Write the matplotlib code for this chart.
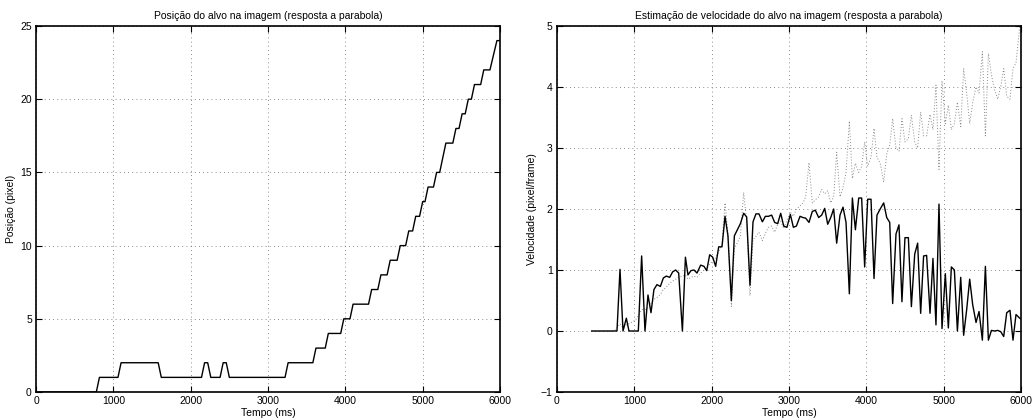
import matplotlib
matplotlib.use("Agg")
from matplotlib import pyplot as plt

plt.rcParams["font.family"] = ["Liberation Sans", "DejaVu Sans"]
plt.rcParams["font.size"] = 7.5

# target position in the image (pixel), vertices of the step curve
pos_t = [0, 780, 820, 1060, 1100, 1580, 1620, 2140, 2180, 2220, 2260,
         2380, 2420, 2460, 2500, 3220, 3260, 3580, 3620, 3740, 3780,
         3940, 3980, 4060, 4100, 4300, 4340, 4420, 4460, 4540, 4580,
         4670, 4710, 4780, 4820, 4870, 4910, 4960, 5000, 5030, 5070,
         5140, 5180, 5220, 5300, 5390, 5430, 5470, 5510, 5550, 5590,
         5630, 5670, 5750, 5790, 5870, 5960, 6000]
pos_px = [0, 0, 1, 1, 2, 2, 1, 1, 2, 2, 1,
          1, 2, 2, 1, 1, 2, 2, 3, 3, 4,
          4, 5, 5, 6, 6, 7, 7, 8, 8, 9,
          9, 10, 10, 11, 11, 12, 12, 13, 13, 14,
          14, 15, 15, 17, 17, 18, 18, 19, 19, 20,
          20, 21, 21, 22, 22, 24, 24]

# velocity estimates (pixel/frame), sampled at the frame times
vel_t = [450, 490, 530, 570, 610, 650, 700, 740, 776, 815,
         854, 897, 931, 975, 1015, 1052, 1095, 1138, 1177, 1216,
         1254, 1293, 1337, 1376, 1415, 1458, 1496, 1535, 1574, 1622,
         1661, 1694, 1733, 1772, 1811, 1858, 1901, 1936, 1975, 2014,
         2052, 2091, 2134, 2173, 2211, 2255, 2294, 2333, 2372, 2414,
         2453, 2496, 2535, 2573, 2612, 2656, 2695, 2734, 2776, 2815,
         2854, 2893, 2932, 2974, 3018, 3057, 3096, 3143, 3181, 3216,
         3259, 3302, 3341, 3384, 3423, 3462, 3501, 3540, 3578, 3617,
         3660, 3699, 3738, 3781, 3820, 3859, 3902, 3940, 3979, 4018,
         4061, 4100, 4138, 4180, 4225, 4264, 4303, 4341, 4384, 4423,
         4461, 4500, 4544, 4583, 4626, 4664, 4703, 4741, 4780, 4824,
         4862, 4901, 4940, 4979, 5022, 5061, 5100, 5139, 5178, 5221,
         5259, 5298, 5337, 5376, 5419, 5458, 5501, 5540, 5579, 5618,
         5660, 5699, 5738, 5777, 5816, 5858, 5897, 5936, 5984, 6000]
vel_est = [0, 0, 0, 0, 0, 0, 0, 0, 0, 1.01,
           0, 0.21, 0, 0, 0, 0, 1.23, 0, 0.59, 0.30,
           0.68, 0.76, 0.73, 0.87, 0.90, 0.88, 0.97, 1.00, 0.95, 0,
           1.21, 0.92, 0.99, 1.00, 0.95, 1.08, 1.06, 0.99, 1.25, 1.21,
           1.06, 1.38, 1.38, 1.88, 1.56, 0.50, 1.56, 1.66, 1.76, 1.93,
           1.87, 0.75, 1.79, 1.92, 1.92, 1.79, 1.88, 1.88, 1.90, 1.78,
           1.76, 1.93, 1.72, 1.70, 1.91, 1.70, 1.72, 1.88, 1.86, 1.85,
           1.78, 1.96, 1.98, 1.86, 1.90, 2.01, 1.75, 1.86, 2.00, 1.44,
           1.90, 2.03, 1.78, 0.61, 2.18, 1.66, 2.18, 2.18, 1.05, 2.16,
           2.16, 0.86, 1.90, 2.00, 2.10, 1.86, 1.78, 0.45, 1.59, 1.74,
           0.48, 1.53, 1.53, 0.40, 1.26, 1.44, 0.29, 1.23, 1.24, 0.29,
           1.19, 0.10, 2.08, 0.04, 0.94, 0.05, 1.05, 1.00, 0.00, 0.88,
           -0.07, 0.35, 0.85, 0.43, 0.14, 0.32, -0.15, 1.06, -0.15, 0.01,
           0.00, 0.01, -0.01, -0.09, 0.30, 0.34, -0.15, 0.27, 0.21, 0.20]
vel_ref = [0, 0, 0, 0, 0, 0, 0, 0, 0.05, 0.12,
           0.05, 0.10, 0.12, 0.15, 0.18, 0.25, 0.35, 0.35, 0.38, 0.45,
           0.52, 0.55, 0.60, 0.68, 0.72, 0.78, 0.82, 0.85, 0.88, 0.90,
           0.92, 0.85, 0.88, 0.90, 0.88, 0.95, 1.00, 1.02, 1.10, 1.15,
           1.20, 1.30, 1.42, 2.10, 1.60, 0.40, 1.35, 1.45, 1.55, 2.27,
           1.80, 0.58, 1.50, 1.55, 1.62, 1.48, 1.60, 1.70, 1.72, 1.62,
           1.75, 1.80, 1.68, 1.82, 1.95, 1.88, 2.00, 2.05, 2.10, 2.20,
           2.76, 2.10, 2.15, 2.20, 2.32, 2.25, 2.30, 2.10, 2.20, 2.93,
           2.20, 2.35, 2.60, 3.44, 2.50, 2.75, 2.60, 2.70, 3.10, 2.70,
           2.85, 3.32, 2.85, 2.75, 2.44, 2.90, 3.05, 3.48, 3.00, 2.95,
           3.48, 3.10, 3.15, 3.54, 3.10, 3.00, 3.59, 3.20, 3.20, 3.55,
           3.30, 4.03, 2.65, 4.10, 3.40, 3.70, 3.30, 3.40, 3.75, 3.35,
           4.30, 3.90, 3.40, 3.75, 4.00, 3.90, 4.58, 3.20, 4.55, 4.20,
           3.95, 3.80, 4.00, 4.30, 3.85, 3.80, 4.30, 4.40, 4.99, 5.00]


def matlab_axes(ax):
    # boxed axes, inward ticks on all sides, dotted grid
    for s in ax.spines.values():
        s.set_linewidth(1.2)
        s.set_color("black")
    ax.tick_params(direction="in", top=True, right=True, length=4,
                   width=0.8, labelsize=7.5, pad=3)
    ax.grid(True, color="#666666", linestyle=(0, (1, 4)), linewidth=0.6)
    ax.set_axisbelow(True)


fig = plt.figure(figsize=(10.32, 4.19), dpi=100)
ax1 = fig.add_axes([0.0349, 0.0644, 0.4496, 0.8736])
ax2 = fig.add_axes([0.5397, 0.0644, 0.4496, 0.8736])

ax1.plot(pos_t, pos_px, color="black", linewidth=1.0)
ax1.set_xlim(0, 6000)
ax1.set_ylim(0, 25)
ax1.set_xticks(range(0, 6001, 1000))
ax1.set_yticks(range(0, 26, 5))
ax1.set_title("Posição do alvo na imagem (resposta a parabola)", fontsize=7.5, pad=5)
ax1.set_xlabel("Tempo (ms)", fontsize=7.5, labelpad=1)
ax1.set_ylabel("Posição (pixel)", fontsize=7.5, labelpad=3)
matlab_axes(ax1)

ax2.plot(vel_t, vel_ref, color="#888888", linestyle=(0, (1, 2)), linewidth=0.7)
ax2.plot(vel_t, vel_est, color="black", linewidth=1.0)
ax2.set_xlim(0, 6000)
ax2.set_ylim(-1, 5)
ax2.set_xticks(range(0, 6001, 1000))
ax2.set_yticks(range(-1, 6))
ax2.set_yticklabels(["\u22121", "0", "1", "2", "3", "4", "5"])
ax2.set_title("Estimação de velocidade do alvo na imagem (resposta a parabola)", fontsize=7.5, pad=5)
ax2.set_xlabel("Tempo (ms)", fontsize=7.5, labelpad=1)
ax2.set_ylabel("Velocidade (pixel/frame)", fontsize=7.5, labelpad=3)
matlab_axes(ax2)

fig.savefig("out.png", dpi=100)
